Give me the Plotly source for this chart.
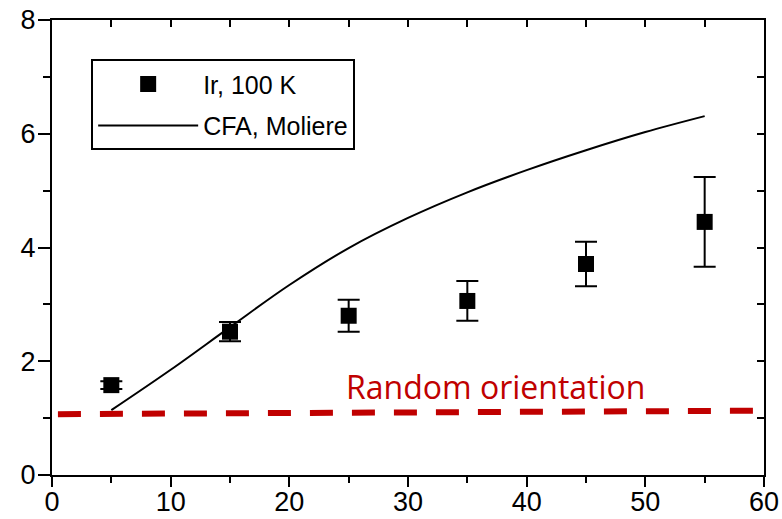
import plotly.graph_objects as go

# Data
exp_x = [5, 15, 25, 35, 45, 55]
exp_y = [1.58, 2.52, 2.80, 3.06, 3.71, 4.45]
exp_err = [0.07, 0.17, 0.28, 0.35, 0.39, 0.79]

cfa_x = [5, 10, 15, 20, 25, 30, 35, 40, 45, 50, 55]
cfa_y = [1.14, 1.85, 2.60, 3.34, 3.99, 4.52, 4.97, 5.36, 5.71, 6.03, 6.31]

rand_x = [0.5, 59.1]
rand_y = [1.07, 1.13]

x_ticks = [0, 10, 20, 30, 40, 50, 60]
y_ticks = [0, 2, 4, 6, 8]

RED = "#C00000"
FONT = "Liberation Sans, Arial, sans-serif"

fig = go.Figure()

fig.add_trace(go.Scatter(
    x=exp_x, y=exp_y, mode="markers", name="Ir, 100 K",
    legendgroup="a",
    marker=dict(symbol="square", size=16, color="black"),
    error_y=dict(type="data", array=exp_err, visible=True,
                 color="black", thickness=2, width=11),
))
fig.add_trace(go.Scatter(
    x=cfa_x, y=cfa_y, mode="lines", name="CFA, Moliere",
    legendgroup="b",
    line=dict(color="black", width=2, shape="spline"),
))
fig.add_trace(go.Scatter(
    x=rand_x, y=rand_y, mode="lines", showlegend=False,
    line=dict(color=RED, width=6, dash="23px,19px"),
    hoverinfo="skip",
))
# invisible trace to activate mirrored top/right axes
fig.add_trace(go.Scatter(
    x=rand_x, y=rand_y, xaxis="x2", yaxis="y2", mode="lines",
    line=dict(width=0), showlegend=False, hoverinfo="skip",
))

fig.add_annotation(
    x=37.4, y=1.56, xref="x", yref="y", text="Random orientation",
    showarrow=False, font=dict(family="Open Sans, sans-serif", size=32, color=RED),
)

axis_common = dict(showline=True, linecolor="black", linewidth=2,
                   showgrid=False, zeroline=False, automargin=False)

fig.update_layout(
    width=782, height=519,
    margin=dict(l=52, r=18, t=20, b=44),
    paper_bgcolor="white", plot_bgcolor="white",
    font=dict(family=FONT, size=27, color="black"),
    showlegend=True,
    legend=dict(
        x=0.055, y=0.914, xanchor="left", yanchor="top",
        bordercolor="black", borderwidth=2, bgcolor="white",
        font=dict(family=FONT, size=25, color="black"),
        tracegroupgap=6, itemwidth=100,
    ),
    xaxis=dict(
        range=[0, 60], tickvals=x_ticks, ticks="outside", ticklen=10,
        tickwidth=2, tickcolor="black", ticklabelstandoff=-8,
        minor=dict(dtick=5, tick0=0, ticks="outside", ticklen=6,
                   tickwidth=2, tickcolor="black"),
        tickfont=dict(size=27), **axis_common,
    ),
    yaxis=dict(
        range=[0, 8], tickvals=y_ticks, ticks="outside", ticklen=12,
        tickwidth=2, tickcolor="black", ticklabelstandoff=-3,
        minor=dict(dtick=1, tick0=0, ticks="outside", ticklen=7,
                   tickwidth=2, tickcolor="black"),
        tickfont=dict(size=27), **axis_common,
    ),
    xaxis2=dict(
        range=[0, 60], overlaying="x", side="top",
        dtick=5, tick0=0, ticks="inside", ticklen=7, tickwidth=2,
        tickcolor="black", showticklabels=False, **axis_common,
    ),
    yaxis2=dict(
        range=[0, 8], overlaying="y", side="right",
        dtick=1, tick0=0, ticks="inside", ticklen=7, tickwidth=2,
        tickcolor="black", showticklabels=False, **axis_common,
    ),
)

fig.write_html("out.html")
